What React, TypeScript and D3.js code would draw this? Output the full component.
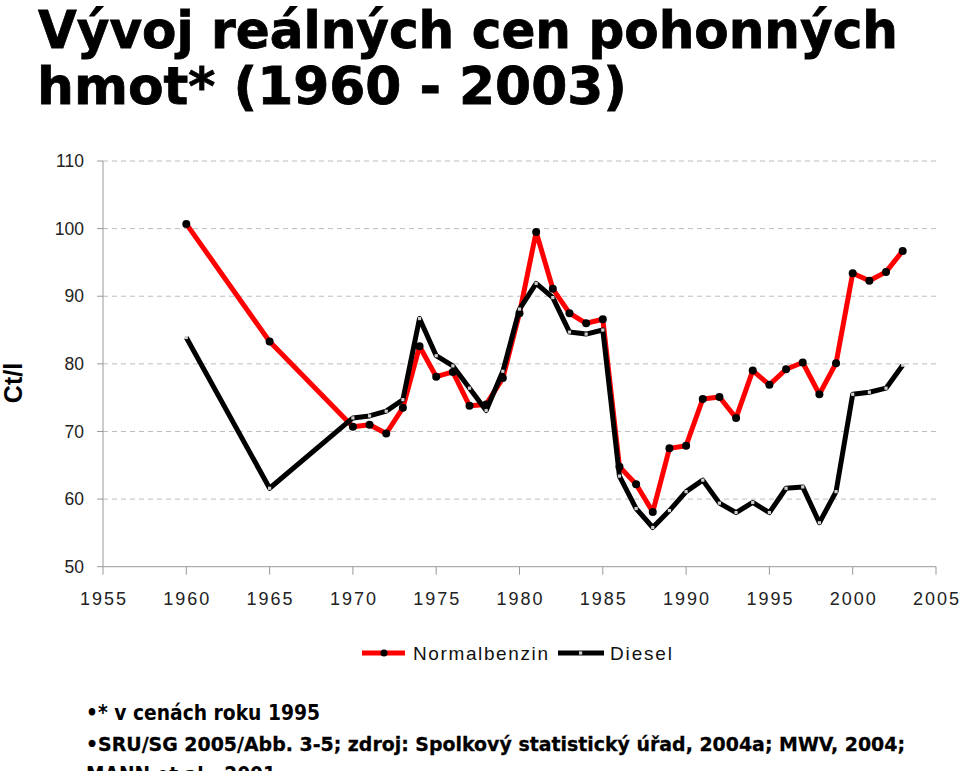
import React from "react";
import * as d3 from "d3";

const years = [1960, 1965, 1970, 1971, 1972, 1973, 1974, 1975, 1976, 1977, 1978, 1979, 1980, 1981, 1982, 1983, 1984, 1985, 1986, 1987, 1988, 1989, 1990, 1991, 1992, 1993, 1994, 1995, 1996, 1997, 1998, 1999, 2000, 2001, 2002, 2003];
const benzin = [100.7, 83.3, 70.7, 71.0, 69.7, 73.5, 82.6, 78.1, 78.8, 73.8, 74.0, 77.9, 87.5, 99.5, 91.1, 87.5, 86.0, 86.6, 64.8, 62.2, 58.1, 67.5, 67.9, 74.8, 75.1, 72.0, 79.0, 76.9, 79.2, 80.2, 75.5, 80.1, 93.4, 92.3, 93.6, 96.7];
const diesel = [83.9, 61.6, 72.0, 72.3, 73.0, 74.7, 86.7, 81.2, 79.7, 76.4, 73.1, 78.9, 88.1, 91.9, 89.8, 84.7, 84.4, 85.0, 63.4, 58.6, 55.8, 58.3, 61.1, 62.8, 59.4, 58.0, 59.5, 58.0, 61.6, 61.8, 56.5, 61.1, 75.5, 75.8, 76.4, 79.8];
const xTicks = [1955, 1960, 1965, 1970, 1975, 1980, 1985, 1990, 1995, 2000, 2005];
const yTicks = [50, 60, 70, 80, 90, 100, 110];
const seriesNames = ["Normalbenzin", "Diesel"];
const titleLines = ["Vývoj reálných cen pohonných", "hmot* (1960 - 2003)"];
const footerLines = ["•* v cenách roku 1995", "•SRU/SG 2005/Abb. 3-5; zdroj: Spolkový statistický úřad, 2004a; MWV, 2004;", "MANN et al., 2001"];

export default function App() {
  const x = d3.scaleLinear().domain([1955, 2005]).range([103, 936]);
  const y = d3.scaleLinear().domain([50, 110]).range([566.7, 161]);
  const line = d3
    .line<number>()
    .x((_, i) => x(years[i]))
    .y((d) => y(d));

  const axisFont = "'Liberation Sans', Arial, sans-serif";
  const boldFont = "'DejaVu Sans', Verdana, sans-serif";

  return (
    <svg
      width={960}
      height={771}
      style={{ position: "absolute", left: 0, top: 0, background: "#fff" }}
    >
      <rect width={960} height={771} fill="#fff" />
      {/* title */}
      <text x={38} y={48} fontFamily={boldFont} fontWeight="bold" fontSize={52} textLength={860} lengthAdjust="spacingAndGlyphs" stroke="#000" strokeWidth={0.8}>
        {titleLines[0]}
      </text>
      <text x={37} y={104} fontFamily={boldFont} fontWeight="bold" fontSize={52} textLength={590} lengthAdjust="spacingAndGlyphs" stroke="#000" strokeWidth={0.8}>
        {titleLines[1]}
      </text>

      {/* grid */}
      {yTicks.filter((t) => t > 50).map((t) => (
        <line key={t} x1={x(1955)} x2={x(2005)} y1={y(t)} y2={y(t)} stroke="#bdbdbd" strokeWidth={1} strokeDasharray="5,4" />
      ))}
      {/* y axis */}
      <line x1={x(1955)} x2={x(1955)} y1={y(110)} y2={y(50)} stroke="#999" strokeWidth={1} />
      {yTicks.map((t) => (
        <g key={t}>
          <line x1={x(1955) - 6} x2={x(1955)} y1={y(t)} y2={y(t)} stroke="#999" />
          <text x={84} y={y(t)} dy="0.35em" textAnchor="end" fontFamily={axisFont} fontSize={17.5} fill="#222">
            {t}
          </text>
        </g>
      ))}
      {/* x axis */}
      <line x1={x(1955)} x2={x(2005)} y1={y(50)} y2={y(50)} stroke="#999" strokeWidth={1} />
      {xTicks.map((t) => (
        <g key={t}>
          <line x1={x(t)} x2={x(t)} y1={y(50)} y2={y(50) + 8} stroke="#999" />
          <text x={x(t) - 23} y={605} fontFamily={axisFont} fontSize={18} fill="#222" textLength={46} lengthAdjust="spacing">
            {t}
          </text>
        </g>
      ))}
      {/* y label */}
      <text transform={`translate(22,383) rotate(-90)`} textAnchor="middle" fontFamily={axisFont} fontWeight="bold" fontSize={25} fill="#000">
        Ct/l
      </text>

      {/* series */}
      <path d={line(benzin) || ""} fill="none" stroke="#ff0000" strokeWidth={5} strokeLinejoin="round" />
      {benzin.map((v, i) => (
        <circle key={"b" + i} cx={x(years[i])} cy={y(v)} r={4} fill="#000" />
      ))}
      <path d={line(diesel) || ""} fill="none" stroke="#000" strokeWidth={5} strokeLinejoin="round" />
      {diesel.map((v, i) => (
        <rect key={"d" + i} x={x(years[i]) - 1.6} y={y(v) - 1.6} width={3.2} height={3.2} fill="#d0d0d0" />
      ))}

      {/* legend */}
      <line x1={362} x2={405} y1={653} y2={653} stroke="#ff0000" strokeWidth={5} />
      <circle cx={384} cy={653} r={3.5} fill="#000" />
      <text x={413} y={660} fontFamily={axisFont} fontSize={19} fill="#111" textLength={135} lengthAdjust="spacing">
        {seriesNames[0]}
      </text>
      <line x1={558} x2={604} y1={653} y2={653} stroke="#000" strokeWidth={5} />
      <rect x={579} y={651.4} width={3.2} height={3.2} fill="#d0d0d0" />
      <text x={610} y={660} fontFamily={axisFont} fontSize={19} fill="#111" textLength={62} lengthAdjust="spacing">
        {seriesNames[1]}
      </text>

      {/* footer */}
      <text x={86} y={720} fontFamily={boldFont} fontWeight="bold" fontSize={21} textLength={234} lengthAdjust="spacingAndGlyphs">
        {footerLines[0]}
      </text>
      <text x={86} y={751} fontFamily={boldFont} fontWeight="bold" fontSize={20} textLength={819} lengthAdjust="spacingAndGlyphs" stroke="#000" strokeWidth={0.3}>
        {footerLines[1]}
      </text>
      <text x={86} y={782} fontFamily={boldFont} fontWeight="bold" fontSize={21} textLength={190} lengthAdjust="spacingAndGlyphs">
        {footerLines[2]}
      </text>
    </svg>
  );
}
